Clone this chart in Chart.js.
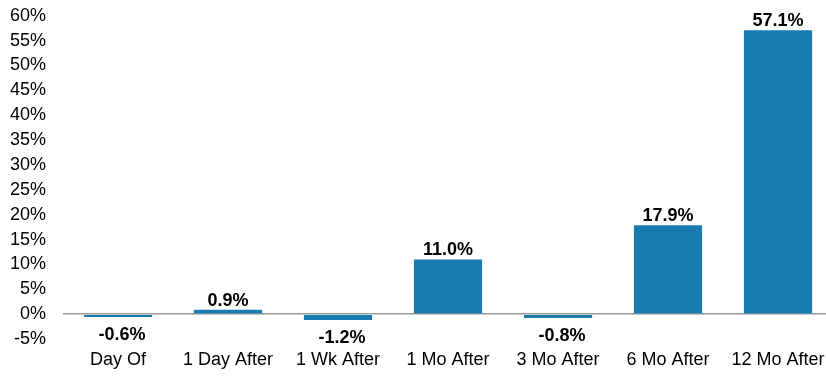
<!DOCTYPE html>
<html>
<head>
<meta charset="utf-8">
<script src="https://cdn.jsdelivr.net/npm/chart.js@4.4.0/dist/chart.umd.min.js"></script>
<style>
  html, body { margin: 0; padding: 0; background: #fff; overflow: hidden; }
  #wrap { width: 833px; height: 389px; margin-top: -12px; }
</style>
</head>
<body>
<div id="wrap"><canvas id="chart"></canvas></div>
<script>
// chart data
const categories = ['Day Of', '1 Day After', '1 Wk After', '1 Mo After', '3 Mo After', '6 Mo After', '12 Mo After'];
const returns = [-0.6, 0.9, -1.2, 11.0, -0.8, 17.9, 57.1];
const yMin = -5;
const yMax = 60;
const yStep = 5;

const fontFamily = '"Liberation Sans", Arial, sans-serif';

// draws the value above (or below) each bar
const valueLabels = {
    id: 'valueLabels',
    afterDatasetsDraw(chart) {
        const ctx = chart.ctx;
        const meta = chart.getDatasetMeta(0);
        ctx.save();
        ctx.font = 'bold 18px ' + fontFamily;
        ctx.fillStyle = '#000';
        ctx.textAlign = 'center';
        ctx.textBaseline = 'alphabetic';
        meta.data.forEach((bar, i) => {
            const v = returns[i];
            const text = v.toFixed(1) + '%';
            if (v >= 0) {
                ctx.fillText(text, bar.x, bar.y - 4);
            } else {
                ctx.fillText(text, bar.x + 4, bar.y + 23);
            }
        });
        ctx.restore();
    }
};

new Chart(document.getElementById('chart'), {
    type: 'bar',
    data: {
        labels: categories,
        datasets: [{
            data: returns,
            backgroundColor: '#187CB1',
            borderWidth: 0,
            barPercentage: 0.62,
            categoryPercentage: 1.0
        }]
    },
    options: {
        responsive: true,
        maintainAspectRatio: false,
        animation: false,
        layout: { padding: { top: 3, right: 0, left: 0, bottom: 0 } },
        plugins: {
            legend: { display: false },
            tooltip: { enabled: false }
        },
        scales: {
            x: {
                afterFit(scale) { scale.height = 38; },
                grid: { display: false },
                border: { display: false },
                ticks: {
                    color: '#000',
                    font: { family: fontFamily, size: 18 },
                    padding: 2,
                    maxRotation: 0,
                    autoSkip: false
                }
            },
            y: {
                min: yMin,
                max: yMax,
                afterFit(scale) { scale.width = 63; },
                border: { display: false },
                grid: {
                    drawTicks: false,
                    lineWidth: ctx => (ctx.tick && ctx.tick.value === 0 ? 1.5 : 0),
                    color: '#9a9a9a'
                },
                ticks: {
                    stepSize: yStep,
                    autoSkip: false,
                    color: '#000',
                    padding: 17,
                    font: { family: fontFamily, size: 18 },
                    callback: v => v + '%'
                }
            }
        }
    },
    plugins: [valueLabels]
});
</script>
</body>
</html>
